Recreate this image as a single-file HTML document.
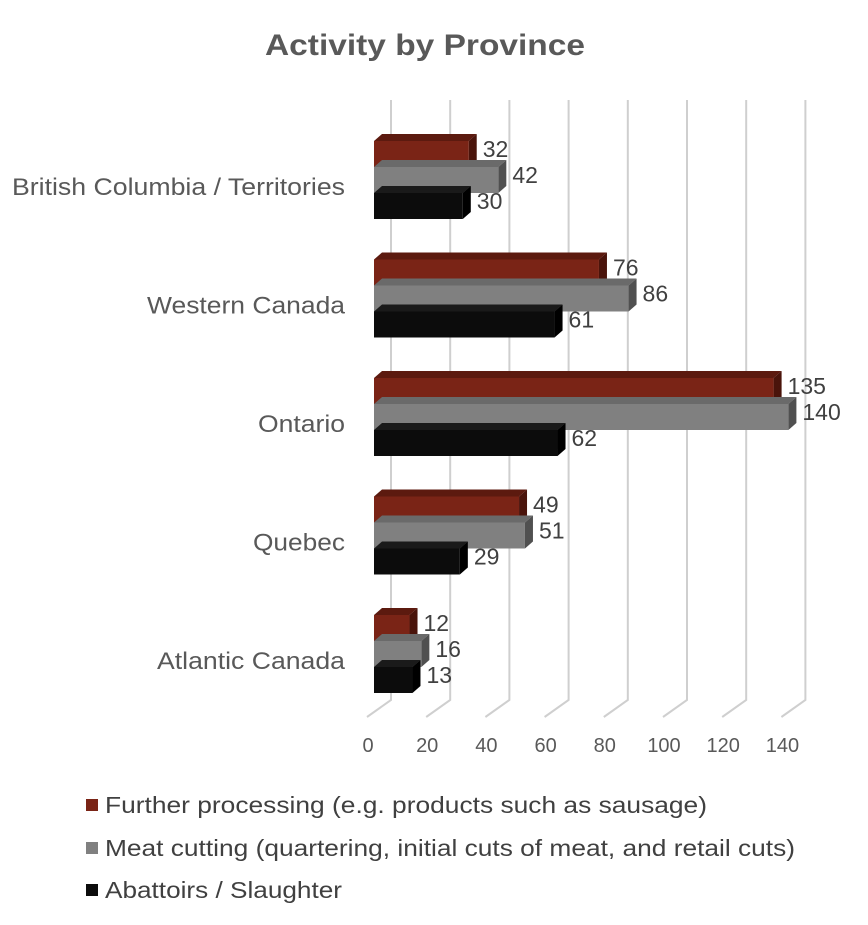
<!DOCTYPE html>
<html><head><meta charset="utf-8"><style>
body{margin:0;background:#fff;font-family:"Liberation Sans",sans-serif;}
</style></head><body>
<svg width="868" height="920" viewBox="0 0 868 920" xmlns="http://www.w3.org/2000/svg" font-family="Liberation Sans, sans-serif">
<text x="265" y="55" textLength="320" lengthAdjust="spacingAndGlyphs" font-size="30" font-weight="bold" fill="#595959">Activity by Province</text>
<g id="grid"></g><g id="bars"></g><g id="labels"></g>
<g font-size="23" fill="#404040">
<rect x="86" y="799" width="12" height="12" fill="#7a2416"/>
<text x="105" y="813" textLength="602" lengthAdjust="spacingAndGlyphs">Further processing (e.g. products such as sausage)</text>
<rect x="86" y="842" width="12" height="12" fill="#808080"/>
<text x="105" y="856" textLength="690" lengthAdjust="spacingAndGlyphs">Meat cutting (quartering, initial cuts of meat, and retail cuts)</text>
<rect x="86" y="884" width="12" height="12" fill="#0c0c0c"/>
<text x="105" y="898" textLength="237" lengthAdjust="spacingAndGlyphs">Abattoirs / Slaughter</text>
</g>
</svg>
<script>
const categories=["British Columbia / Territories","Western Canada","Ontario","Quebec","Atlantic Canada"];
const further=[32,76,135,49,12];
const cutting=[42,86,140,51,16];
const abattoirs=[30,61,62,29,13];
const ticks=[0,20,40,60,80,100,120,140];
const NS="http://www.w3.org/2000/svg";
const x0=374,k=2.96,dx=8,dy=7,bh=26;
const X=v=>x0+v*k;
const Yc=i=>180+i*118.5;
function mk(t,a,p){const e=document.createElementNS(NS,t);for(const n in a)e.setAttribute(n,a[n]);p.appendChild(e);return e;}
const grid=document.getElementById('grid'),bars=document.getElementById('bars'),labels=document.getElementById('labels');
const catW=[333,198,87,92,188];
ticks.forEach(t=>{
  const gx=X(t)+17;
  const g=mk('g',{},grid);
  
  
  mk('polyline',{points:`${gx},100 ${gx},700 ${gx-24},717`,fill:'none',stroke:'#cfcfcf','stroke-width':2},g);
  const tl=mk('text',{x:X(t)-6,y:752,'text-anchor':'middle','font-size':20,fill:'#595959'},labels);
  
  
  tl.textContent=t;
});
const series=[[further,'#7a2416','#5c1a0f','#4a140b','further'],[cutting,'#808080','#6a6a6a','#505050','cutting'],[abattoirs,'#0c0c0c','#1a1a1a','#000','abattoirs']];
categories.forEach((c,i)=>{
  const cl=mk('text',{x:345-catW[i],y:Yc(i)+15,textLength:catW[i],lengthAdjust:'spacingAndGlyphs','font-size':24,fill:'#595959'},labels);
  
  
  cl.textContent=c;
  series.forEach((s,j)=>{
    const v=s[0][i],y=Yc(i)-bh*1.5+j*bh,xe=X(v);
    const g=mk('g',{},bars);
    
    
    mk('polygon',{points:`${x0},${y} ${x0+dx},${y-dy} ${xe+dx},${y-dy} ${xe},${y}`,fill:s[2]},g);
    mk('polygon',{points:`${xe},${y} ${xe+dx},${y-dy} ${xe+dx},${y+bh-dy} ${xe},${y+bh}`,fill:s[3]},g);
    mk('rect',{x:x0,y:y,width:xe-x0,height:bh,fill:s[1]},g);
    const vl=mk('text',{x:xe+dx+6,y:y+bh/2+3,'font-size':23,fill:'#404040'},labels);
    
    
    vl.textContent=v;
  });
});
</script>
</body></html>
